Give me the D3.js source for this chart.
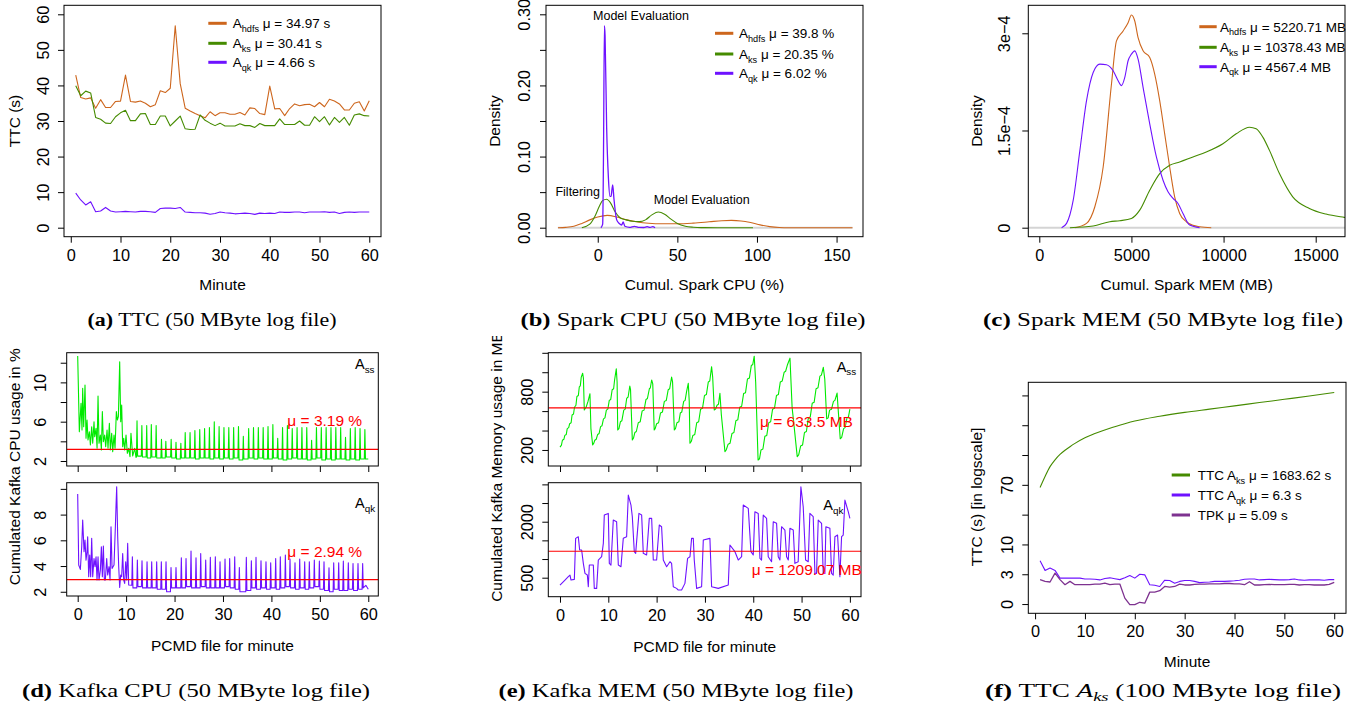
<!DOCTYPE html>
<html lang="en">
<head>
<meta charset="utf-8">
<title>Spark / Kafka resource usage</title>
<script src="https://cdnjs.cloudflare.com/ajax/libs/d3/7.8.5/d3.min.js"></script>
<style>
  body { margin: 0; background: #fff; }
  svg text { font-family: "Liberation Sans", Arial, Helvetica, sans-serif; fill: #000; }
  svg text.cap { font-family: "Liberation Serif", "DejaVu Serif", serif; }
  svg .tick text { font-size: 16.3px; }
</style>
</head>
<body>
<svg id="fig" width="1353" height="713"></svg>
<script>
// ---- (a) TTC per minute, 50 MB log file
var minutes = d3.range(1, 61);
var ttcHdfs = [42.9,36.6,36.2,36.5,33.6,36.0,33.8,33.8,35.5,35.6,42.9,35.5,35.3,35.6,35.0,34.0,34.6,38.5,38.0,39.2,
               56.8,40.5,33.6,32.8,32.1,31.5,30.9,32.6,31.5,32.3,32.3,31.9,31.9,32.4,31.7,33.7,33.5,32.1,31.8,39.8,
               33.4,33.5,31.5,33.5,34.8,34.3,34.6,34.7,34.0,35.2,34.0,36.1,35.6,34.8,33.1,33.1,35.0,35.4,32.8,35.7];
var ttcKs = [39.9,37.1,38.4,37.9,31.0,30.5,29.4,29.3,31.2,32.3,33.0,30.1,30.1,32.0,32.1,29.0,29.0,31.4,31.4,28.6,
             30.0,31.4,27.8,27.6,27.7,31.7,30.2,29.4,28.7,29.4,28.6,28.6,28.6,29.2,28.7,28.7,28.2,29.3,28.7,28.7,
             28.7,30.6,29.0,29.0,29.0,30.0,28.8,28.8,31.2,29.8,31.2,28.9,31.0,29.6,31.0,28.8,31.7,32.0,31.5,31.4];
var ttcQk = [9.7,7.8,6.4,7.3,4.5,4.7,5.7,4.7,4.4,4.5,4.6,4.5,4.4,4.6,4.6,4.5,4.3,5.4,5.5,5.5,
             5.4,5.7,4.4,4.3,4.2,4.2,4.1,3.8,4.0,4.4,4.2,4.1,3.9,4.0,4.1,4.0,3.75,4.1,4.0,4.1,
             4.0,4.4,4.3,4.3,4.4,4.4,4.2,4.4,4.4,4.4,4.5,4.3,4.4,4.0,4.3,4.4,4.3,4.4,4.4,4.4];

// ---- (b) density of cumulative Spark CPU (%)
var cpuHdfs = [[-25,0],[-20,0.0005],[-15,0.002],[-10,0.006],[-5,0.011],[0,0.015],[6,0.0173],[12,0.015],[18,0.011],
  [25,0.008],[32,0.0063],[40,0.0055],[50,0.0055],[60,0.0065],[70,0.0083],[78,0.0098],[84,0.0103],[90,0.0095],
  [96,0.0072],[102,0.004],[108,0.0015],[114,0.0003],[120,0],[160,0]];
var cpuKs = [[-10,0],[-5,0.005],[-2,0.015],[1,0.03],[3,0.038],[5.6,0.040],[8,0.035],[11,0.022],[14,0.014],[18,0.011],
  [22,0.009],[26,0.0085],[30,0.011],[34,0.018],[38,0.022],[42,0.019],[46,0.012],[50,0.006],[55,0.002],[60,0.0006],
  [65,0.0001],[75,0],[97.5,0]];
var cpuQk = [[2,0],[3.1,0.005],[3.6,0.1],[4.2,0.284],[4.6,0.27],[5.6,0.14],[6.7,0.07],[7.7,0.044],[8.35,0.044],
  [9.0,0.055],[9.4,0.06],[10.2,0.04],[11.9,0.011],[13.5,0.006],[15,0.0038],[16,0.008],[17,0.002],[20,0.0005],
  [23,0.002],[26,0.0004],[29,0.0003],[31,0.0015],[33,0.0004],[34.5,0.0015],[36,0]];
var cpuZeroSpan = [-25, 160];

// ---- (c) density of cumulative Spark MEM (MB); density in units of 1e-4
var memHdfs = [[1931,0],[2563,0.067],[3014,0.323],[3466,0.937],[3917,2.217],[4188,2.883],[4549,3.036],[4819,3.164],
  [5000,3.282],[5180,3.19],[5361,2.934],[5632,2.729],[5993,2.627],[6263,2.371],[6534,1.961],[6805,1.449],[7076,0.937],
  [7346,0.476],[7617,0.220],[7978,0.092],[8339,0.036],[8700,0.015],[9332,0]];
var memKs = [[1661,0],[2924,0.026],[3827,0.092],[4368,0.108],[5000,0.143],[5451,0.271],[5993,0.579],[6534,0.835],
  [7076,0.963],[7617,1.014],[8339,1.091],[9061,1.167],[9964,1.295],[10686,1.449],[11408,1.551],[11769,1.526],
  [12130,1.398],[12491,1.193],[13032,0.835],[13754,0.476],[14657,0.297],[15559,0.210],[16552,0.159],[17000,0.14]];
var memQk = [[1209,0],[1480,0.067],[1841,0.425],[2202,1.193],[2563,1.961],[2924,2.396],[3285,2.524],[3646,2.514],
  [4007,2.422],[4278,2.268],[4458,2.192],[4639,2.319],[4819,2.576],[5000,2.678],[5180,2.729],[5361,2.601],[5632,2.166],
  [5993,1.603],[6354,1.091],[6715,0.732],[6985,0.553],[7256,0.451],[7527,0.374],[7798,0.220],[8159,0.041],[8700,0]];

// ---- (d) Kafka CPU (%) per PCMD file
var kcpuSsHead = [[0,12.68],[0.34,4.98],[0.69,7.86],[0.89,5.15],[1.03,9.39],[1.24,5.49],[1.51,9.73],[1.72,4.31],
  [1.93,6.17],[2.13,4.14],[2.41,4.98],[2.62,3.63],[2.89,5.49],[3.10,3.8],[3.37,6.0],[3.51,4.47],[3.79,5.32],[4.0,3.29],
  [4.2,8.61],[4.4,3.8],[4.68,4.64],[4.89,3.12],[5.09,7.02],[5.3,3.97],[5.57,4.64],[5.78,3.46],[6.06,5.15],[6.26,3.29],
  [6.54,5.83],[6.74,3.12],[7.02,4.81],[7.23,2.95],[7.5,4.64],[7.71,3.29],[7.98,7.02],[8.19,6.17],[8.4,6.51],[8.67,12.1],
  [8.88,6.0],[9.08,7.69],[9.29,3.46],[9.5,4.31],[9.7,3.12],[9.98,4.64],[10.25,2.78],[10.53,3.29],[10.8,2.44],[11.0,4.81],
  [11.36,2.51],[11.77,3.29],[12.04,2.37]];
var kcpuSsPeaks = [[12.25,6.1],[13.25,5.6],[14.25,5.6],[15.2,5.7],[16.2,5.6],[17.3,4.2],[18.2,4.0],[19.3,4.2],[20.3,3.9],
  [21.3,3.8],[22.2,4.9],[23.2,4.9],[24.2,5.1],[25.2,5.2],[26.2,5.3],[27.2,5.4],[28.2,6.0],[29.2,5.5],[30.2,5.4],[31.2,5.4],
  [32.2,5.4],[33.2,5.5],[34.2,4.5],[35.3,5.3],[36.3,5.4],[37.3,5.4],[38.3,5.4],[39.3,5.5],[40.3,5.7],[41.3,4.3],[42.3,5.4],
  [43.3,5.6],[44.3,5.3],[45.3,5.4],[46.3,5.4],[47.3,5.4],[48.3,4.1],[49.3,5.4],[50.3,5.4],[51.3,5.4],[52.3,5.4],[53.3,5.4],
  [54.3,5.4],[55.3,4.4],[56.3,5.3],[57.3,5.4],[58.3,5.3],[59.3,5.2]];
var kcpuSsBase = [2.4,2.5,2.4,2.3,2.4,2.3,2.3,2.4,2.3,2.2,2.3,2.3,2.3,2.2,2.3,2.3,2.2,2.3,2.2,2.3,2.2,2.3,2.1,2.2,2.3,
  2.2,2.3,2.2,2.2,2.3,2.2,2.1,2.2,2.3,2.2,2.2,2.1,2.2,2.3,2.1,2.2,2.1,2.2,2.2,2.1,2.2,2.1,2.2,2.2];
var kcpuSsTail = [[60,2.2]];
var kcpuQkHead = [[0,9.6],[0.21,4.08],[0.55,3.74],[0.83,5.5],[1.03,7.58],[1.31,5.11],[1.51,6.02],[1.72,4.46],[1.93,5.11],
  [2.06,6.28],[2.27,3.17],[2.48,4.85],[2.68,3.17],[2.89,6.15],[3.1,3.17],[3.37,4.59],[3.58,3.95],[3.79,4.72],[3.99,2.91],
  [4.2,4.72],[4.4,2.91],[4.68,3.69],[4.89,5.5],[5.09,3.17],[5.3,5.55],[5.51,2.91],[5.71,2.91],[5.99,4.59],[6.19,3.3],
  [6.47,3.95],[6.68,2.91],[6.88,7.06],[7.09,3.82],[7.3,3.95],[7.5,4.08],[7.78,7.06],[7.91,8.61],[8.05,10.17],[8.26,6.28],
  [8.47,3.95],[8.67,2.34],[8.88,3.3],[9.08,3.17],[9.29,4.98],[9.5,2.91],[9.7,2.65],[9.91,4.33],[10.12,2.91],[10.32,5.76],
  [10.53,2.52]];
var kcpuQkPeaks = [[11.29,4.72],[12.32,4.46],[13.28,4.41],[14.32,4.33],[15.28,4.33],[16.31,4.33],[17.27,4.33],[18.24,4.33],
  [19.27,3.89],[20.3,3.89],[21.4,4.64],[22.37,4.59],[23.4,5.16],[24.43,4.64],[25.4,4.98],[26.43,4.46],[27.39,4.67],
  [28.42,4.72],[29.39,4.33],[30.42,4.54],[31.38,4.59],[32.42,4.72],[33.38,3.89],[34.82,4.67],[35.86,4.41],[36.82,4.67],
  [37.85,4.41],[38.88,4.33],[39.85,4.25],[40.88,4.59],[41.84,4.72],[42.88,4.85],[43.84,4.54],[44.87,4.25],[45.84,4.54],
  [46.87,4.33],[47.83,4.33],[48.86,4.46],[49.9,4.38],[50.86,4.33],[51.89,3.87],[52.86,4.25],[53.89,4.25],[54.85,4.38],
  [55.88,4.25],[56.85,4.2],[57.88,4.2],[58.84,4.2]];
var kcpuQkBase = [2.5,2.3,2.4,2.3,2.3,2.3,2.2,2.2,2.0,2.3,2.3,2.3,2.4,2.3,2.3,2.4,2.3,2.3,2.3,2.3,2.4,2.3,2.2,2.0,2.1,
  2.3,2.2,2.3,2.2,2.3,2.2,2.3,2.4,2.3,2.2,2.3,2.2,2.3,2.4,2.2,2.1,2.0,2.2,2.1,2.1,2.2,2.1,2.2,2.3];
var kcpuQkTail = [[59.5,2.5],[60,2.2]];
var kcpuMean = [3.19, 2.94];

// ---- (e) Kafka MEM (MB) per PCMD file
var kmemSs = [[0,230],[0.3,250],[0.5,300],[0.8,310],[1,350],[1.3,360],[1.5,420],[1.8,430],[2,470],[2.3,480],[2.5,560],
  [2.8,570],[3,640],[3.3,660],[3.5,750],[3.8,760],[4,850],[4.2,860],[4.4,950],[4.69,989],[4.85,940],[5.03,611],[5.4,640],
  [5.8,700],[6.2,779],[6.4,420],[6.76,251],[7.0,270],[7.2,300],[7.5,310],[7.8,360],[8.1,370],[8.4,440],[8.7,450],[9,520],
  [9.3,530],[9.6,610],[9.9,620],[10.2,710],[10.5,720],[10.8,820],[11.1,830],[11.3,920],[11.65,1035],[11.82,900],
  [11.95,406],[12.2,420],[12.5,490],[12.8,500],[13.2,610],[13.5,620],[13.8,730],[14.1,745],[14.45,858],[14.6,820],
  [14.97,303],[15.2,320],[15.5,380],[15.8,390],[16.2,480],[16.6,490],[17,600],[17.4,610],[17.8,720],[18.1,730],
  [18.5,830],[18.7,840],[18.97,920],[19.2,880],[19.5,406],[19.7,420],[20,470],[20.4,480],[20.8,580],[21.2,590],
  [21.6,700],[22.0,710],[22.4,820],[22.7,830],[23.1,950],[23.3,900],[23.66,406],[23.9,420],[24.2,480],[24.6,490],
  [24.9,580],[25.2,590],[25.6,700],[25.9,710],[26.2,800],[26.55,886],[26.75,700],[26.9,269],[27.2,290],[27.5,350],
  [27.9,360],[28.3,480],[28.7,490],[29.1,620],[29.5,630],[29.9,760],[30.3,770],[30.7,900],[31.0,910],[31.38,1057],
  [31.6,950],[31.93,611],[32.2,620],[32.5,660],[32.8,670],[33.1,783],[33.4,560],[34.14,183],[34.4,200],[34.8,260],
  [35.2,270],[35.6,370],[36.0,380],[36.4,500],[36.8,510],[37.2,640],[37.6,650],[38,780],[38.4,790],[38.8,930],[39.2,940],
  [39.6,1070],[39.9,1080],[40.2,1165],[40.5,900],[41.0,97],[41.3,110],[41.6,200],[42.0,210],[42.4,340],[42.8,350],
  [43.2,480],[43.6,490],[44,620],[44.4,630],[44.8,760],[45.2,770],[45.6,900],[46.0,910],[46.4,1000],[46.7,1010],
  [47.1,1080],[47.6,1145],[48.05,630],[48.3,520],[49.1,131],[49.4,150],[49.8,240],[50.2,250],[50.6,380],[51.0,390],
  [51.4,530],[51.8,540],[52.2,680],[52.6,690],[53,830],[53.4,840],[53.8,960],[54.1,970],[54.5,1050],[54.8,930],
  [55.2,520],[55.5,530],[55.8,610],[56.2,620],[56.6,700],[56.9,710],[57.35,785],[57.6,600],[58.0,315],[58.3,330],
  [58.7,420],[59.0,430],[59.4,530],[59.7,540],[60,620]];
var kmemQk = [[0,304],[1.03,437],[1.72,527],[2.07,571],[2.28,437],[2.97,455],[3.24,1554],[3.79,1598],[4.07,1241],
  [4.48,1241],[4.83,884],[5.17,616],[5.66,571],[5.86,259],[6.07,839],[6.9,839],[7.1,214],[7.59,214],[7.93,973],
  [8.62,1063],[8.97,1420],[9.17,2179],[10.0,2223],[10.21,884],[10.55,839],[11.03,2045],[11.72,2000],[12.07,839],
  [12.62,795],[13.1,1554],[13.79,1598],[14.14,2715],[14.69,2447],[14.97,2134],[15.38,1197],[15.66,1152],[16.34,2223],
  [16.9,2179],[17.24,1152],[17.93,1107],[18.48,2090],[18.97,2090],[19.31,973],[20.0,973],[20.55,1911],[21.03,1866],
  [21.38,973],[22.07,795],[22.76,929],[23.1,884],[23.45,259],[24.14,214],[24.48,170],[25.17,170],[25.86,348],[26.41,1018],
  [26.9,1063],[27.24,1554],[27.59,1554],[27.79,973],[28.28,214],[29.31,259],[29.66,1509],[31.03,1554],[31.38,259],
  [32.76,214],[34.83,304],[35.17,1375],[36.21,1197],[36.9,973],[37.59,1063],[37.93,2447],[38.97,2357],[39.52,1197],
  [40.0,1107],[40.34,2268],[41.03,2223],[41.38,1018],[41.72,973],[42.07,2179],[42.76,2090],[43.1,1063],[43.79,929],
  [44.14,2000],[44.83,1956],[45.17,1063],[45.52,973],[45.86,1866],[46.55,1777],[46.9,1063],[47.25,973],[47.59,1822],
  [48.28,1777],[48.62,884],[49.3,929],[49.86,2938],[50.34,2402],[50.83,973],[51.38,929],[51.72,2223],[52.41,2134],
  [52.76,616],[53.1,616],[53.45,2045],[54.14,1956],[54.48,616],[54.83,616],[55.03,1866],[55.86,1822],[56.21,616],
  [56.55,571],[56.9,1598],[57.45,1643],[57.93,527],[58.28,1598],[58.62,1643],[58.97,2580],[59.66,2268],[60,2090]];
var kmemMean = [633.5, 1209.07];

// ---- (f) TTC, 100 MB log file (values in log-axis units)
var fKs = [[1,3.91],[2,4.28],[3,4.61],[4,4.84],[5,5.02],[6,5.16],[7,5.28],[8,5.39],[10,5.58],[12,5.72],[15,5.9],
  [18,6.05],[20,6.14],[25,6.3],[30,6.43],[35,6.54],[40,6.65],[45,6.76],[50,6.87],[55,6.98],[60,7.1]];
var fQk = [1.45,1.13,1.21,1.13,0.87,0.87,0.87,0.87,0.87,0.84,0.84,0.83,0.81,0.86,0.88,0.85,0.82,0.88,0.96,0.87,
           1.0,0.98,0.65,0.63,0.59,0.8,0.79,0.7,0.76,0.79,0.79,0.76,0.72,0.73,0.74,0.76,0.76,0.76,0.77,0.78,
           0.8,0.83,0.84,0.84,0.81,0.82,0.83,0.82,0.81,0.81,0.82,0.84,0.81,0.8,0.81,0.81,0.81,0.8,0.82,0.82];
var fTpk = [0.82,0.76,0.74,1.04,0.82,0.65,0.76,0.65,0.65,0.65,0.65,0.67,0.67,0.7,0.65,0.67,0.67,0.2,-0.02,-0.02,
            0.06,0.03,0.4,0.4,0.45,0.59,0.57,0.59,0.67,0.64,0.64,0.66,0.67,0.67,0.68,0.68,0.68,0.69,0.69,0.68,
            0.68,0.65,0.75,0.64,0.64,0.65,0.66,0.65,0.65,0.65,0.66,0.66,0.64,0.65,0.65,0.64,0.64,0.64,0.66,0.73];
var fTickLabels = ["0","3","10","","70","","",""];

var ORANGE = "#cd661d", GREEN = "#458b00", PURPLE = "#6e12ff", LIME = "#00ea00", PLUM = "#7e3290", RED = "#ff0000";

var svg = d3.select("#fig");
var clipN = 0;

function frame(o) {
    var x = d3.scaleLinear().domain(o.xDom).range([o.l, o.r]);
    var y = d3.scaleLinear().domain(o.yDom).range([o.b, o.t]);
    var id = "clip" + (clipN++);
    svg.append("clipPath").attr("id", id).append("rect")
        .attr("x", o.l).attr("y", o.t).attr("width", o.r - o.l).attr("height", o.b - o.t);

    var xa = svg.append("g").attr("transform", "translate(0," + o.b + ")")
        .call(d3.axisBottom(x).tickValues(o.xTicks).tickSize(6).tickSizeOuter(0)
            .tickFormat(function (d) { return o.xLabels ? String(d) : ""; }));
    xa.attr("font-family", null);
    xa.select(".domain").remove();
    xa.selectAll("text").attr("y", 24).attr("dy", 0);

    var ya = svg.append("g").attr("transform", "translate(" + o.l + ",0)")
        .call(d3.axisLeft(y).tickValues(o.yTicks).tickSize(6).tickSizeOuter(0)
            .tickFormat(function (d, i) { return o.yLabels[i]; }));
    ya.attr("font-family", null);
    ya.select(".domain").remove();
    ya.selectAll("text").attr("x", null).attr("dy", 0).attr("text-anchor", "middle")
        .attr("transform", "translate(" + (-o.yOff) + ",0) rotate(-90)");

    var plot = svg.append("g").attr("clip-path", "url(#" + id + ")");
    svg.append("rect").attr("x", o.l).attr("y", o.t).attr("width", o.r - o.l).attr("height", o.b - o.t)
        .attr("fill", "none").attr("stroke", "#000").attr("stroke-width", 1);
    return { x: x, y: y, plot: plot, o: o };
}

function drawLine(f, data, color, width, curve) {
    var line = d3.line()
        .x(function (d) { return f.x(d[0]); })
        .y(function (d) { return f.y(d[1]); })
        .curve(curve || d3.curveLinear);
    f.plot.append("path").datum(data).attr("d", line)
        .attr("fill", "none").attr("stroke", color).attr("stroke-width", width || 1.1)
        .attr("stroke-linejoin", "round");
}

function hline(f, v, color, width, span) {
    var xs = span || f.x.domain();
    f.plot.append("line").attr("x1", f.x(xs[0])).attr("x2", f.x(xs[1]))
        .attr("y1", f.y(v)).attr("y2", f.y(v)).attr("stroke", color).attr("stroke-width", width || 1);
}

// parts: [text, styles] where styles is a list like ["bold"], ["sub"], ["italic","sub"]
function richText(t, parts) {
    parts.forEach(function (p, i) {
        var s = t.append("tspan").text(p[0]);
        var st = p[1] || [];
        if (st.indexOf("bold") >= 0) s.attr("font-weight", "bold");
        if (st.indexOf("italic") >= 0) s.attr("font-style", "italic");
        if (st.indexOf("sub") >= 0) s.attr("font-size", "0.68em").attr("dy", 3.5);
        else if (i > 0 && (parts[i - 1][1] || []).indexOf("sub") >= 0) s.attr("dy", -3.5);
    });
    return t;
}

function legend(items, x0, x1, tx, rows) {
    items.forEach(function (it, i) {
        svg.append("line").attr("x1", x0).attr("x2", x1).attr("y1", rows[i]).attr("y2", rows[i])
            .attr("stroke", it.color).attr("stroke-width", 3);
        richText(svg.append("text").attr("x", tx).attr("y", rows[i] + 5).attr("font-size", 13.5), it.parts);
    });
}

function yTitle(x, cy, txt, clip) {
    var g = svg.append("g");
    if (clip) g.attr("clip-path", clip);
    g.append("text").attr("transform", "translate(" + x + "," + cy + ") rotate(-90)")
        .attr("text-anchor", "middle").attr("font-size", 15.5).text(txt);
}

function xTitle(cx, y, txt) {
    svg.append("text").attr("x", cx).attr("y", y).attr("text-anchor", "middle").attr("font-size", 15.5).text(txt);
}

function caption(cx, y, w, parts) {
    var t = svg.append("text").attr("class", "cap").attr("x", cx).attr("y", y).attr("text-anchor", "middle")
        .attr("font-size", 18).attr("textLength", w).attr("lengthAdjust", "spacingAndGlyphs");
    richText(t, parts);
}

function spikes(head, peaks, base, tail) {
    var pts = head.slice();
    peaks.forEach(function (p, i) {
        pts.push([p[0] - 0.12, base[i]], p, [p[0] + 0.12, base[i + 1]]);
    });
    return pts.concat(tail);
}

var SUB = ["sub"];
var tens = [0, 10, 20, 30, 40, 50, 60];
var paired = function (vals) { return vals.map(function (v, i) { return [minutes[i], v]; }); };

// ===== (a)
var fa = frame({ l: 64, r: 381, t: 5.3, b: 236.7, xDom: [-1.36, 62.36], yDom: [-2.53, 62.53],
    xTicks: tens, xLabels: true, yTicks: tens, yLabels: tens.map(String), yOff: 15.5 });
drawLine(fa, paired(ttcHdfs), ORANGE);
drawLine(fa, paired(ttcKs), GREEN);
drawLine(fa, paired(ttcQk), PURPLE);
legend([
    { color: ORANGE, parts: [["A"], ["hdfs", SUB], [" \u03bc = 34.97 s"]] },
    { color: GREEN, parts: [["A"], ["ks", SUB], [" \u03bc = 30.41 s"]] },
    { color: PURPLE, parts: [["A"], ["qk", SUB], [" \u03bc = 4.66 s"]] }
], 208.3, 226.7, 232.7, [23.3, 43.3, 62.3]);
yTitle(20, 121, "TTC (s)");
xTitle(222.5, 289.5, "Minute");

// ===== (b)
var fb = frame({ l: 546, r: 863, t: 5.3, b: 236.7, xDom: [-32.5, 166.6], yDom: [-0.01265, 0.31265],
    xTicks: [0, 50, 100, 150], xLabels: true,
    yTicks: [0, 0.05, 0.1, 0.15, 0.2, 0.25, 0.3], yLabels: ["0.00", "", "0.10", "", "0.20", "", "0.30"], yOff: 16 });
hline(fb, 0, "#d4d4d4", 2, cpuZeroSpan);
drawLine(fb, cpuHdfs, ORANGE, 1.1, d3.curveMonotoneX);
drawLine(fb, cpuKs, GREEN, 1.1, d3.curveMonotoneX);
drawLine(fb, cpuQk, PURPLE, 1.3, d3.curveMonotoneX);
legend([
    { color: ORANGE, parts: [["A"], ["hdfs", SUB], [" \u03bc = 39.8 %"]] },
    { color: GREEN, parts: [["A"], ["ks", SUB], [" \u03bc = 20.35 %"]] },
    { color: PURPLE, parts: [["A"], ["qk", SUB], [" \u03bc = 6.02 %"]] }
], 715, 733.3, 739, [33.3, 54, 73.3]);
[["Model Evaluation", 641, 19.5], ["Filtering", 577.7, 195.5], ["Model Evaluation", 701.7, 204]].forEach(function (a) {
    svg.append("text").attr("x", a[1]).attr("y", a[2]).attr("text-anchor", "middle").attr("font-size", 12.5).text(a[0]);
});
yTitle(500, 121, "Density");
xTitle(704.5, 289.5, "Cumul. Spark CPU (%)");

// ===== (c)
var fc = frame({ l: 1028.3, r: 1345, t: 5.3, b: 236.7, xDom: [-597, 16590], yDom: [-0.139, 3.432],
    xTicks: [0, 5000, 10000, 15000], xLabels: true,
    yTicks: [0, 1.5, 3], yLabels: ["0", "1.5e\u22124", "3e\u22124"], yOff: 18 });
hline(fc, 0, "#d4d4d4", 2);
drawLine(fc, memHdfs, ORANGE, 1.1, d3.curveMonotoneX);
drawLine(fc, memKs, GREEN, 1.1, d3.curveMonotoneX);
drawLine(fc, memQk, PURPLE, 1.1, d3.curveMonotoneX);
legend([
    { color: ORANGE, parts: [["A"], ["hdfs", SUB], [" \u03bc = 5220.71 MB"]] },
    { color: GREEN, parts: [["A"], ["ks", SUB], [" \u03bc = 10378.43 MB"]] },
    { color: PURPLE, parts: [["A"], ["qk", SUB], [" \u03bc = 4567.4 MB"]] }
], 1199.3, 1216.7, 1220, [26.7, 47.3, 66.7]);
yTitle(982, 121, "Density");
xTitle(1186.7, 289.5, "Cumul. Spark MEM (MB)");

// ===== (d)
var fdTop = frame({ l: 66.7, r: 378.3, t: 352.7, b: 466, xDom: [-2.27, 62.07], yDom: [1.49, 13.02],
    xTicks: tens, xLabels: false, yTicks: [2, 4, 6, 8, 10, 12], yLabels: ["2", "", "6", "", "10", ""], yOff: 21 });
drawLine(fdTop, spikes(kcpuSsHead, kcpuSsPeaks, kcpuSsBase, kcpuSsTail), LIME, 1.1);
hline(fdTop, kcpuMean[0], RED, 1.2);
var fdBot = frame({ l: 66.7, r: 378.3, t: 482.7, b: 596, xDom: [-2.27, 62.07], yDom: [1.67, 10.48],
    xTicks: tens, xLabels: true, yTicks: [2, 4, 6, 8, 10], yLabels: ["2", "4", "6", "8", ""], yOff: 21 });
drawLine(fdBot, spikes(kcpuQkHead, kcpuQkPeaks, kcpuQkBase, kcpuQkTail), PURPLE, 1.1);
hline(fdBot, kcpuMean[1], RED, 1.2);
svg.append("text").attr("x", 287.3).attr("y", 426).attr("font-size", 15.5).style("fill", RED).text("\u03bc = 3.19 %");
svg.append("text").attr("x", 287.3).attr("y", 557).attr("font-size", 15.5).style("fill", RED).text("\u03bc = 2.94 %");
richText(svg.append("text").attr("x", 355).attr("y", 369.3).attr("font-size", 14.5), [["A"], ["ss", SUB]]);
richText(svg.append("text").attr("x", 355).attr("y", 508.3).attr("font-size", 14.5), [["A"], ["qk", SUB]]);
yTitle(20, 466.7, "Cumulated Kafka CPU usage in %");
xTitle(222.5, 650.5, "PCMD file for minute");

// ===== (e)
var feTop = frame({ l: 548.3, r: 861, t: 352.7, b: 466, xDom: [-2.42, 62.3], yDom: [35, 1201],
    xTicks: tens, xLabels: false, yTicks: [200, 400, 600, 800, 1000, 1200],
    yLabels: ["200", "", "", "800", "", ""], yOff: 15.6 });
drawLine(feTop, kmemSs, LIME, 1.1);
hline(feTop, kmemMean[0], RED, 1.2);
var feBot = frame({ l: 548.3, r: 861, t: 482.7, b: 596.7, xDom: [-2.42, 62.3], yDom: [-9, 3045],
    xTicks: tens, xLabels: true, yTicks: [500, 1000, 1500, 2000, 2500, 3000],
    yLabels: ["500", "", "", "2000", "", ""], yOff: 15.6 });
drawLine(feBot, kmemQk, PURPLE, 1.1);
hline(feBot, kmemMean[1], RED, 1.2);
svg.append("text").attr("x", 760).attr("y", 427).attr("font-size", 15.5).style("fill", RED).text("\u03bc = 633.5 MB");
svg.append("text").attr("x", 751.7).attr("y", 575).attr("font-size", 15.5).style("fill", RED).text("\u03bc = 1209.07 MB");
richText(svg.append("text").attr("x", 836.7).attr("y", 371.7).attr("font-size", 14.5), [["A"], ["ss", SUB]]);
richText(svg.append("text").attr("x", 823.3).attr("y", 510).attr("font-size", 14.5), [["A"], ["qk", SUB]]);
svg.append("clipPath").attr("id", "eTitleClip").append("rect").attr("x", 470).attr("y", 336).attr("width", 60).attr("height", 300);
yTitle(501.5, 467, "Cumulated Kafka Memory usage in MB", "url(#eTitleClip)");
xTitle(704.7, 651.5, "PCMD file for minute");

// ===== (f)
var ff = frame({ l: 1028.3, r: 1346, t: 382.3, b: 613.3, xDom: [-1.36, 62.36], yDom: [-0.31, 7.44],
    xTicks: tens, xLabels: true, yTicks: [0, 1, 2, 3, 4, 5, 6, 7], yLabels: fTickLabels, yOff: 15 });
drawLine(ff, fKs, GREEN, 1.1, d3.curveMonotoneX);
drawLine(ff, paired(fQk), PURPLE, 1.1);
drawLine(ff, paired(fTpk), PLUM, 1.3);
legend([
    { color: GREEN, parts: [["TTC A"], ["ks", SUB], [" \u03bc = 1683.62 s"]] },
    { color: PURPLE, parts: [["TTC A"], ["qk", SUB], [" \u03bc = 6.3 s"]] },
    { color: PLUM, parts: [["TPK \u03bc = 5.09 s"]] }
], 1171.7, 1190, 1197.7, [475, 495, 515]);
yTitle(982, 497, "TTC (s) [in logscale]");
xTitle(1187, 667, "Minute");

// ===== sub-captions
var B = ["bold"];
caption(212, 326, 249, [["(a)", B], [" TTC (50 MByte log file)"]]);
caption(693, 326, 345, [["(b)", B], [" Spark CPU (50 MByte log file)"]]);
caption(1163, 326, 360, [["(c)", B], [" Spark MEM (50 MByte log file)"]]);
caption(196, 697, 348, [["(d)", B], [" Kafka CPU (50 MByte log file)"]]);
caption(676, 697, 355, [["(e)", B], [" Kafka MEM (50 MByte log file)"]]);
caption(1163, 697, 356, [["(f)", B], [" TTC "], ["A", ["italic"]], ["ks", ["italic", "sub"]], [" (100 MByte log file)"]]);
</script>
</body>
</html>
